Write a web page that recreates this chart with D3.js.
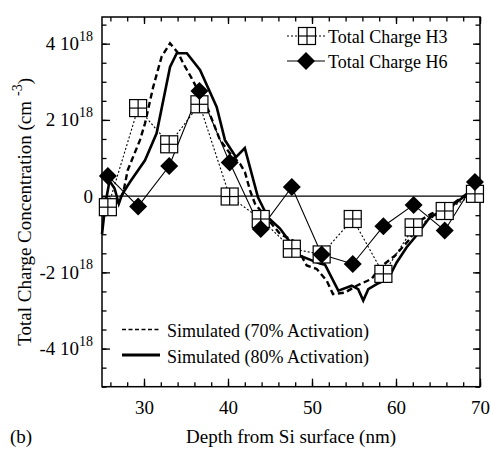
<!DOCTYPE html>
<html lang="en">
<head>
    <meta charset="UTF-8">
    <title>Total Charge Concentration</title>
    <script src="https://d3js.org/d3.v7.min.js"></script>
    <style>
        body { margin: 0; background: #fff; }
        svg text { font-family: "Liberation Serif", "Times New Roman", serif; fill: #000; }
        .axis path { display: none; }
        .axis line { stroke: #000; stroke-width: 1.3px; }
    </style>
</head>
<body>
<div id="chart"></div>
<script>
    // Measured points (charge in units of 10^18 cm^-3)
    const depth = [25.7, 29.3, 33.0, 36.6, 40.2, 43.9, 47.6, 51.15, 54.85, 58.5, 62.1, 65.8, 69.4];
    const chargeH3 = [-0.29, 2.31, 1.36, 2.41, -0.01, -0.6, -1.38, -1.53, -0.6, -2.04, -0.82, -0.39, 0.06];
    const chargeH6 = [0.53, -0.27, 0.79, 2.76, 0.88, -0.86, 0.24, -1.53, -1.78, -0.79, -0.23, -0.9, 0.37];

    // Simulated profiles
    const simDepth70 = [26.5, 27.5, 28.06, 28.54, 29.52, 30.12, 31.1, 32.1, 33.1, 34.08, 34.68, 35.68, 37.65, 39.05,
        40.24, 41.43, 42.02, 42.62, 43.21, 46.19, 47.77, 49.37, 50.56, 51.75, 52.5, 53.93, 55.32, 57.1, 58.1,
        59.88, 61.67, 62.86, 64.25, 67.02, 68.42, 70];
    const simCharge70 = [-0.25, 0.06, 0.68, 0.94, 1.47, 1.91, 2.87, 3.66, 4.01, 3.75, 3.48, 3.09, 2.26, 1.47,
        1.12, 0.85, 0.63, 0.15, -0.2, -0.99, -1.17, -1.82, -1.91, -2.22, -2.57, -2.53, -2.35, -2.17, -1.87,
        -1.56, -1.12, -0.64, -0.46, -0.16, 0.06, 0.08];
    const simDepth80 = [25.0, 25.4, 25.9, 26.5, 27.0, 27.4, 28.33, 30.12, 31.5, 33.1, 33.9, 35.1, 36.67, 38.65,
        39.64, 40.95, 42.0, 43.57, 44.76, 46.19, 48.57, 50.95, 51.55, 53.13, 54.73, 55.5, 56.1, 56.7, 57.7,
        59.08, 60.08, 61.27, 62.26, 64.05, 66.43, 68.0, 69.4];
    const simCharge80 = [-1.0, -0.2, 0.4, 0.2, -0.2, 0.05, 0.37, 0.94, 1.65, 3.39, 3.75, 3.75, 3.31, 2.34,
        1.47, 1.02, 1.26, -0.03, -0.56, -0.85, -1.56, -1.77, -1.8, -2.48, -2.35, -2.44, -2.74, -2.44, -2.31,
        -2.17, -1.74, -1.34, -1.08, -0.55, -0.29, -0.03, 0.07];

    const xMajor = [30, 40, 50, 60, 70];
    const yMajor = [-4, -2, 0, 2, 4];

    const width = 491, height = 452;
    const plotLeft = 102, plotRight = 480, plotTop = 17, plotBottom = 386.7;

    const svg = d3.select("#chart").append("svg")
        .attr("width", width)
        .attr("height", height);

    const x = d3.scaleLinear().domain([25, 70]).range([plotLeft, plotRight]);
    const y = d3.scaleLinear().domain([-5, 4.7]).range([plotBottom, plotTop]);

    const xMinor = d3.range(26, 70.1, 2);
    const yMinor = d3.range(-5, 4.6, 0.5);

    // minor ticks (inward)
    svg.append("g").attr("class", "axis").attr("transform", `translate(0,${plotBottom})`)
        .call(d3.axisBottom(x).tickValues(xMinor).tickSize(-4.5).tickFormat(""));
    svg.append("g").attr("class", "axis").attr("transform", `translate(0,${plotTop})`)
        .call(d3.axisTop(x).tickValues(xMinor).tickSize(-4.5).tickFormat(""));
    svg.append("g").attr("class", "axis").attr("transform", `translate(${plotLeft},0)`)
        .call(d3.axisLeft(y).tickValues(yMinor).tickSize(-4.5).tickFormat(""));
    svg.append("g").attr("class", "axis").attr("transform", `translate(${plotRight},0)`)
        .call(d3.axisRight(y).tickValues(yMinor).tickSize(-4.5).tickFormat(""));

    // major ticks
    const xAxis = svg.append("g").attr("class", "axis").attr("transform", `translate(0,${plotBottom})`)
        .call(d3.axisBottom(x).tickValues(xMajor).tickSize(-8).tickPadding(13.5));
    xAxis.selectAll("text").attr("font-size", 19);
    svg.append("g").attr("class", "axis").attr("transform", `translate(0,${plotTop})`)
        .call(d3.axisTop(x).tickValues(xMajor).tickSize(-7).tickFormat(""));

    const yAxis = svg.append("g").attr("class", "axis").attr("transform", `translate(${plotLeft},0)`)
        .call(d3.axisLeft(y).tickValues(yMajor).tickSize(-8).tickPadding(9));
    yAxis.selectAll("text")
        .attr("font-size", 19)
        .each(function(d) {
            const t = d3.select(this).text(null);
            if (d === 0) { t.append("tspan").text("0"); return; }
            t.append("tspan").text(d + " 10");
            t.append("tspan").attr("font-size", 14).attr("dy", -9.5).text("18");
        });
    svg.append("g").attr("class", "axis").attr("transform", `translate(${plotRight},0)`)
        .call(d3.axisRight(y).tickValues(yMajor).tickSize(-7).tickFormat(""));

    // frame
    svg.append("rect")
        .attr("x", plotLeft).attr("y", plotTop)
        .attr("width", plotRight - plotLeft).attr("height", plotBottom - plotTop)
        .attr("fill", "none").attr("stroke", "#000").attr("stroke-width", 1.5);

    // zero line
    svg.append("line")
        .attr("x1", plotLeft).attr("x2", plotRight)
        .attr("y1", y(0)).attr("y2", y(0))
        .attr("stroke", "#000").attr("stroke-width", 1.3);

    const line = d3.line().x(d => x(d[0])).y(d => y(d[1]));

    svg.append("path")
        .datum(d3.zip(simDepth70, simCharge70))
        .attr("d", line)
        .attr("fill", "none").attr("stroke", "#000")
        .attr("stroke-width", 2.4).attr("stroke-dasharray", "6,3.5");

    svg.append("path")
        .datum(d3.zip(simDepth80, simCharge80))
        .attr("d", line)
        .attr("fill", "none").attr("stroke", "#000")
        .attr("stroke-width", 2.6).attr("stroke-linejoin", "miter");

    svg.append("path")
        .datum(d3.zip(depth, chargeH3))
        .attr("d", line)
        .attr("fill", "none").attr("stroke", "#000")
        .attr("stroke-width", 1.1).attr("stroke-dasharray", "2,2");

    svg.append("path")
        .datum(d3.zip(depth, chargeH6))
        .attr("d", line)
        .attr("fill", "none").attr("stroke", "#000")
        .attr("stroke-width", 1.1);

    function square(g, cx, cy) {
        const s = 8.5;
        g.append("rect").attr("x", cx - s).attr("y", cy - s)
            .attr("width", 2 * s).attr("height", 2 * s)
            .attr("fill", "#fff").attr("stroke", "#000").attr("stroke-width", 1.2);
        g.append("line").attr("x1", cx).attr("x2", cx).attr("y1", cy - s).attr("y2", cy + s)
            .attr("stroke", "#000").attr("stroke-width", 1.2);
        g.append("line").attr("x1", cx - s).attr("x2", cx + s).attr("y1", cy).attr("y2", cy)
            .attr("stroke", "#000").attr("stroke-width", 1.2);
    }

    function diamond(g, cx, cy) {
        const s = 9;
        g.append("path")
            .attr("d", `M${cx},${cy - s}L${cx + s},${cy}L${cx},${cy + s}L${cx - s},${cy}Z`)
            .attr("fill", "#000");
    }

    const h3 = svg.append("g");
    depth.forEach((d, i) => square(h3, x(d), y(chargeH3[i])));
    const h6 = svg.append("g");
    depth.forEach((d, i) => diamond(h6, x(d), y(chargeH6[i])));

    // legend, top right
    const lg = svg.append("g");
    lg.append("line").attr("x1", 287).attr("x2", 325).attr("y1", 36).attr("y2", 36)
        .attr("stroke", "#000").attr("stroke-width", 1.1).attr("stroke-dasharray", "2,2");
    square(lg, 307, 36);
    lg.append("text").attr("x", 328).attr("y", 42.5).attr("font-size", 18).text("Total Charge H3");
    lg.append("line").attr("x1", 287).attr("x2", 325).attr("y1", 61).attr("y2", 61)
        .attr("stroke", "#000").attr("stroke-width", 1.1);
    diamond(lg, 306, 61);
    lg.append("text").attr("x", 328).attr("y", 67.5).attr("font-size", 18).text("Total Charge H6");

    // legend, bottom left
    lg.append("line").attr("x1", 122).attr("x2", 160).attr("y1", 329.5).attr("y2", 329.5)
        .attr("stroke", "#000").attr("stroke-width", 1.6).attr("stroke-dasharray", "4,2.5");
    lg.append("text").attr("x", 167).attr("y", 337).attr("font-size", 18).text("Simulated (70% Activation)");
    lg.append("line").attr("x1", 122).attr("x2", 160).attr("y1", 355).attr("y2", 355)
        .attr("stroke", "#000").attr("stroke-width", 3);
    lg.append("text").attr("x", 167).attr("y", 362.5).attr("font-size", 18).text("Simulated (80% Activation)");

    // axis titles
    svg.append("text")
        .attr("x", (plotLeft + plotRight) / 2).attr("y", 443)
        .attr("text-anchor", "middle").attr("font-size", 19)
        .text("Depth from Si surface (nm)");

    const yt = svg.append("text")
        .attr("transform", `translate(31,${(plotTop + plotBottom) / 2 + 10}) rotate(-90)`)
        .attr("text-anchor", "middle").attr("font-size", 19);
    yt.append("tspan").text("Total Charge Concentration (cm");
    yt.append("tspan").attr("font-size", 14).attr("dy", -9).attr("dx", 5).text("-3");
    yt.append("tspan").attr("dy", 9).text(")");

    svg.append("text").attr("x", 10).attr("y", 443).attr("font-size", 19).text("(b)");
</script>
</body>
</html>
